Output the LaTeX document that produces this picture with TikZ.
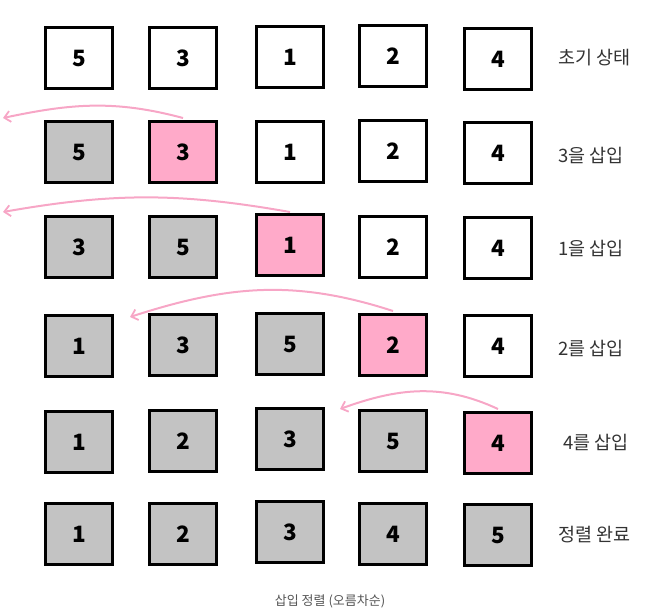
\documentclass[tikz,border=0pt]{standalone}
\usepackage{fontspec}
\setmainfont{Noto Sans CJK KR}
\usetikzlibrary{arrows.meta}
\definecolor{boxgray}{HTML}{C3C3C3}
\definecolor{boxpink}{HTML}{FFAAC9}
\definecolor{arrpink}{HTML}{F7A6C6}
\definecolor{capgray}{HTML}{555555}
\tikzset{
  cell/.style={draw=black, line width=3pt, minimum width=67pt, minimum height=61pt, inner sep=0pt, font=\fontsize{22.5}{22.5}\selectfont\bfseries},
  done/.style={cell, fill=boxgray},
  cur/.style={cell, fill=boxpink},
  todo/.style={cell, fill=white},
  lab/.style={anchor=west, font=\fontsize{18.5}{18.5}\selectfont, text=black!80, inner sep=0pt},
  mv/.style={draw=arrpink, line width=2pt, -{Straight Barb[length=6pt,width=11pt,line width=1.8pt]}},
}
\begin{document}
\begin{tikzpicture}[x=1pt,y=1pt]
\useasboundingbox (0,0) rectangle (654,-616);
% row 1
\node[todo] (a1) at (79,-58) {5};
\node[todo] (a2) at (183,-58) {3};
\node[todo] (a3) at (290,-57) {1};
\node[todo] (a4) at (393,-56) {2};
\node[todo] (a5) at (498,-59) {4};
\node[lab] (la) at (558,-58) {초기 상태};
% row 2
\node[done] (b1) at (79,-152) {5};
\node[cur] (b2) at (183,-152) {3};
\node[todo] (b3) at (290,-152) {1};
\node[todo] (b4) at (393,-151) {2};
\node[todo] (b5) at (498,-153) {4};
\node[lab] (lb) at (558,-155) {3을 삽입};
% row 3
\node[done] (c1) at (79,-247) {3};
\node[done] (c2) at (183,-247) {5};
\node[cur] (c3) at (290,-245) {1};
\node[todo] (c4) at (393,-247) {2};
\node[todo] (c5) at (498,-248) {4};
\node[lab] (lc) at (558,-248) {1을 삽입};
% row 4
\node[done] (d1) at (79,-346) {1};
\node[done] (d2) at (183,-345) {3};
\node[done] (d3) at (290,-344) {5};
\node[cur] (d4) at (393,-345) {2};
\node[todo] (d5) at (498,-346) {4};
\node[lab] (ld) at (558,-348) {2를 삽입};
% row 5
\node[done] (e1) at (79,-442) {1};
\node[done] (e2) at (183,-441) {2};
\node[done] (e3) at (290,-439) {3};
\node[done] (e4) at (393,-441) {5};
\node[cur] (e5) at (498,-443) {4};
\node[lab] (le) at (563,-442) {4를 삽입};
% row 6
\node[done] (f1) at (79,-534) {1};
\node[done] (f2) at (183,-534) {2};
\node[done] (f3) at (290,-532) {3};
\node[done] (f4) at (393,-534) {4};
\node[done] (f5) at (498,-535) {5};
\node[lab] (lf) at (558,-535) {정렬 완료};
% caption
\node[font=\fontsize{13}{13}\selectfont, text=capgray] (cap) at (330,-601) {삽입 정렬 (오름차순)};
% arrows
\coordinate (tb) at (3,-118);
\coordinate (tc) at (3,-212);
\coordinate (td) at (130,-317);
\coordinate (te) at (340,-409);
\draw[mv] ([yshift=2pt]b2.north) to[out=165,in=12] (tb);
\draw[mv] ([yshift=1pt]c3.north) to[out=170,in=10] (tc);
\draw[mv] ([yshift=2pt]d4.north) to[out=162,in=18] (td);
\draw[mv] ([yshift=2pt]e5.north) to[out=155,in=20] (te);
\end{tikzpicture}
\end{document}
